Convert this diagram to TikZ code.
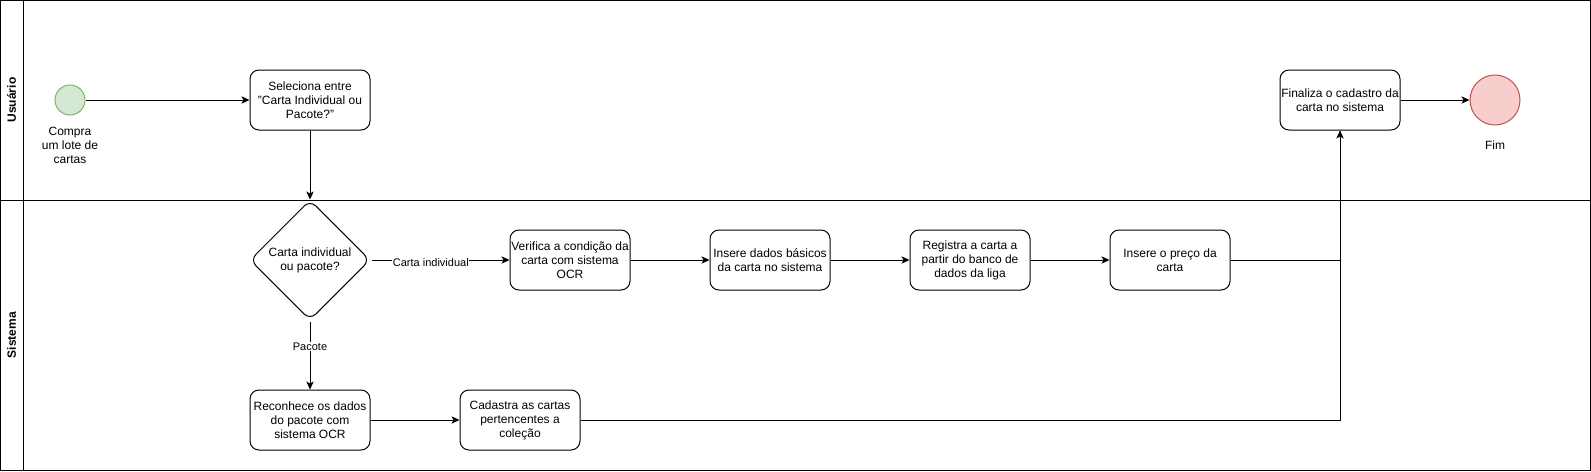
\documentclass[tikz,border=0pt]{standalone}
\usepackage{fontspec}
\setmainfont{Liberation Sans}
\usetikzlibrary{arrows.meta,shapes.geometric}
\definecolor{startfill}{HTML}{D5E8D4}
\definecolor{startline}{HTML}{82B366}
\definecolor{endfill}{HTML}{F8CECC}
\definecolor{endline}{HTML}{B85450}
\tikzset{
  task/.style={draw, line width=0.75pt, rounded corners=6.75pt, minimum width=90pt, minimum height=45pt,
    inner sep=0pt, align=center, font=\fontsize{9}{10.5}\selectfont},
  decision/.style={draw, line width=0.75pt, diamond, rounded corners=6pt, minimum width=90pt, minimum height=90pt,
    inner sep=0pt, align=center, font=\fontsize{9}{10.5}\selectfont},
  flow/.style={draw, line width=0.75pt, -{Stealth[length=6pt,width=5.5pt,inset=1.5pt]}},
  plain/.style={draw, line width=0.75pt},
  lbl/.style={font=\fontsize{8.25}{10}\selectfont, fill=white, inner sep=0.5pt},
  txt/.style={align=center, font=\fontsize{9}{10.5}\selectfont, inner sep=0pt},
  lanetitle/.style={rotate=90, font=\bfseries\fontsize{9}{10.5}\selectfont, inner sep=0pt},
}
\begin{document}
\begin{tikzpicture}[x=0.75pt,y=-0.75pt]
\useasboundingbox (0,0) rectangle (1591,471);
% pool and lanes
\draw[line width=0.75pt] (0.5,0.5) rectangle (1590,470);
\draw[line width=0.75pt] (23,0.5) -- (23,470);
\draw[line width=0.75pt] (0.5,200) -- (1590,200);
\node[lanetitle] (laneU) at (11.5,100) {Usuário};
\node[lanetitle] (laneS) at (11.5,335) {Sistema};
% events
\node[circle, draw=startline, fill=startfill, line width=0.75pt, minimum size=22.5pt, inner sep=0pt] (start) at (70,100) {};
\node[txt] (startlbl) at (70,145) {Compra\\um lote de\\cartas};
\node[circle, draw=endline, fill=endfill, line width=0.75pt, minimum size=37.5pt, inner sep=0pt] (end) at (1495,100) {};
\node[txt] (endlbl) at (1495,145) {Fim};
% tasks
\node[task] (sel) at (310,100) {Seleciona entre\\"Carta Individual ou\\Pacote?"};
\node[decision] (dec) at (310,260) {Carta individual\\ou pacote?};
\node[task] (ver) at (570,260) {Verifica a condição da\\carta com sistema\\OCR};
\node[task] (ins) at (770,260) {Insere dados básicos\\da carta no sistema};
\node[task] (reg) at (970,260) {Registra a carta a\\partir do banco de\\dados da liga};
\node[task] (pre) at (1170,260) {Insere o preço da\\carta};
\node[task] (rec) at (310,420) {Reconhece os dados\\do pacote com\\sistema OCR};
\node[task] (cad) at (520,420) {Cadastra as cartas\\pertencentes a\\coleção};
\node[task] (fin) at (1340,100) {Finaliza o cadastro da\\carta no sistema};
% connectors
\draw[flow] ([xshift=0.75pt]dec.east) -- node[lbl, pos=0.43, yshift=-2pt] (lci) {Carta individual} (ver);
\draw[flow] (start) -- (sel);
\draw[flow] (sel) -- (dec.north);
\draw[flow] ([yshift=-0.75pt]dec.south) -- node[lbl, pos=0.37] (lpa) {Pacote} (rec);
\draw[flow] (ver) -- (ins);
\draw[flow] (ins) -- (reg);
\draw[flow] (reg) -- (pre);
\draw[flow] (rec) -- (cad);
\draw[flow] (pre.east) -| (fin.south);
\draw[plain] (cad.east) -| (fin.south);
\draw[flow] (fin) -- (end);
\end{tikzpicture}
\end{document}
